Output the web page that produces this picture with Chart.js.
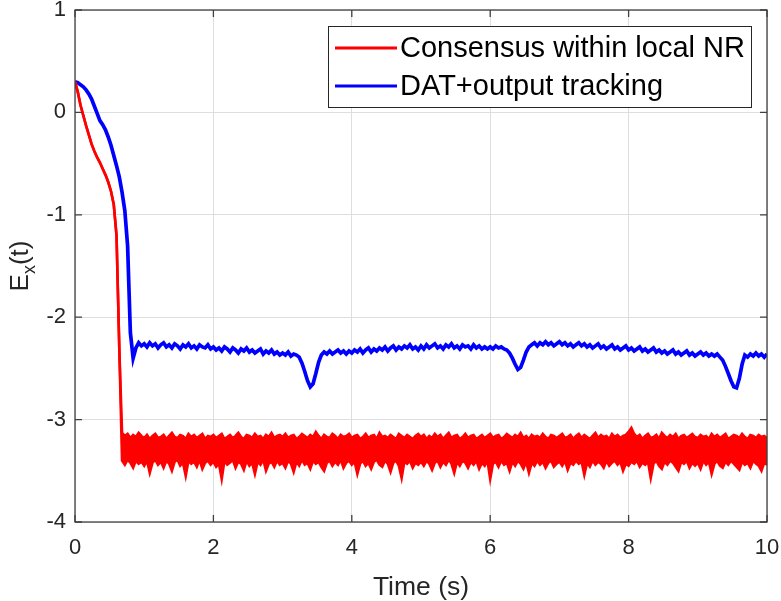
<!DOCTYPE html>
<html>
<head>
<meta charset="utf-8">
<script src="https://cdn.jsdelivr.net/npm/chart.js@4.4.1/dist/chart.umd.min.js"></script>
<style>
html,body{margin:0;padding:0;background:#fff;}
canvas{display:block;}
</style>
</head>
<body>
<canvas id="exChart" width="781" height="601"></canvas>
<script>
// sample times (s)
const times=[
0,0.04,0.08,0.12,0.16,0.2,0.24,0.28,0.32,0.36,0.4,0.44,0.48,0.52,0.56,0.6,0.64,0.68,0.72,0.76,0.8,0.84,0.88,0.92,0.96,
1,1.04,1.08,1.12,1.16,1.2,1.24,1.28,1.32,1.36,1.4,1.44,1.48,1.52,1.56,1.6,1.64,1.68,1.72,1.76,1.8,1.84,1.88,1.92,1.96,
2,2.04,2.08,2.12,2.16,2.2,2.24,2.28,2.32,2.36,2.4,2.44,2.48,2.52,2.56,2.6,2.64,2.68,2.72,2.76,2.8,2.84,2.88,2.92,2.96,
3,3.04,3.08,3.12,3.16,3.2,3.24,3.28,3.32,3.36,3.4,3.44,3.48,3.52,3.56,3.6,3.64,3.68,3.72,3.76,3.8,3.84,3.88,3.92,3.96,
4,4.04,4.08,4.12,4.16,4.2,4.24,4.28,4.32,4.36,4.4,4.44,4.48,4.52,4.56,4.6,4.64,4.68,4.72,4.76,4.8,4.84,4.88,4.92,4.96,
5,5.04,5.08,5.12,5.16,5.2,5.24,5.28,5.32,5.36,5.4,5.44,5.48,5.52,5.56,5.6,5.64,5.68,5.72,5.76,5.8,5.84,5.88,5.92,5.96,
6,6.04,6.08,6.12,6.16,6.2,6.24,6.28,6.32,6.36,6.4,6.44,6.48,6.52,6.56,6.6,6.64,6.68,6.72,6.76,6.8,6.84,6.88,6.92,6.96,
7,7.04,7.08,7.12,7.16,7.2,7.24,7.28,7.32,7.36,7.4,7.44,7.48,7.52,7.56,7.6,7.64,7.68,7.72,7.76,7.8,7.84,7.88,7.92,7.96,
8,8.04,8.08,8.12,8.16,8.2,8.24,8.28,8.32,8.36,8.4,8.44,8.48,8.52,8.56,8.6,8.64,8.68,8.72,8.76,8.8,8.84,8.88,8.92,8.96,
9,9.04,9.08,9.12,9.16,9.2,9.24,9.28,9.32,9.36,9.4,9.44,9.48,9.52,9.56,9.6,9.64,9.68,9.72,9.76,9.8,9.84,9.88,9.92,9.96,
10];

// Consensus within local NR: upper edge of the noisy trace
const consensusHi=[
0.30,0.20,0.07,-0.03,-0.13,-0.22,-0.31,-0.38,-0.44,-0.49,-0.55,-0.61,-0.68,-0.77,-0.90,-1.20,-2.30,-3.13,-3.16,-3.14,-3.18,-3.15,-3.17,-3.13,-3.16,
-3.18,-3.15,-3.19,-3.16,-3.14,-3.18,-3.17,-3.15,-3.19,-3.16,-3.13,-3.17,-3.18,-3.15,-3.16,-3.19,-3.14,-3.17,-3.15,-3.18,-3.16,-3.14,-3.19,-3.16,-3.17,
-3.15,-3.18,-3.16,-3.14,-3.19,-3.17,-3.15,-3.18,-3.16,-3.13,-3.17,-3.19,-3.15,-3.16,-3.18,-3.14,-3.17,-3.16,-3.19,-3.15,-3.17,-3.13,-3.18,-3.16,-3.15,
-3.17,-3.14,-3.18,-3.16,-3.15,-3.19,-3.17,-3.14,-3.16,-3.18,-3.15,-3.17,-3.12,-3.16,-3.19,-3.15,-3.17,-3.18,-3.14,-3.16,-3.19,-3.15,-3.17,-3.16,-3.14,
-3.18,-3.16,-3.15,-3.19,-3.17,-3.14,-3.18,-3.16,-3.15,-3.19,-3.13,-3.17,-3.16,-3.18,-3.15,-3.17,-3.19,-3.14,-3.16,-3.18,-3.15,-3.17,-3.19,-3.16,-3.14,
-3.17,-3.15,-3.19,-3.16,-3.18,-3.14,-3.17,-3.15,-3.19,-3.16,-3.13,-3.18,-3.16,-3.15,-3.19,-3.17,-3.14,-3.18,-3.16,-3.15,-3.19,-3.17,-3.15,-3.18,-3.16,
-3.14,-3.18,-3.16,-3.15,-3.19,-3.17,-3.14,-3.16,-3.18,-3.15,-3.17,-3.13,-3.18,-3.16,-3.19,-3.15,-3.17,-3.16,-3.18,-3.14,-3.17,-3.19,-3.15,-3.16,-3.18,
-3.16,-3.14,-3.18,-3.17,-3.15,-3.19,-3.16,-3.14,-3.18,-3.15,-3.17,-3.19,-3.16,-3.13,-3.18,-3.15,-3.17,-3.16,-3.19,-3.14,-3.17,-3.15,-3.18,-3.16,-3.15,
-3.12,-3.08,-3.14,-3.17,-3.15,-3.19,-3.16,-3.14,-3.18,-3.17,-3.15,-3.19,-3.13,-3.16,-3.18,-3.15,-3.17,-3.14,-3.19,-3.16,-3.15,-3.18,-3.16,-3.14,-3.17,
-3.18,-3.15,-3.17,-3.16,-3.19,-3.14,-3.17,-3.15,-3.18,-3.16,-3.14,-3.19,-3.17,-3.15,-3.16,-3.18,-3.14,-3.17,-3.19,-3.15,-3.16,-3.18,-3.15,-3.17,-3.16,
-3.18];

// Consensus within local NR: lower edge of the noisy trace
const consensusLo=[
0.30,0.20,0.07,-0.03,-0.13,-0.22,-0.31,-0.38,-0.44,-0.49,-0.55,-0.61,-0.68,-0.77,-0.90,-1.20,-2.30,-3.40,-3.44,-3.39,-3.42,-3.47,-3.40,-3.43,-3.41,
-3.45,-3.40,-3.52,-3.42,-3.39,-3.44,-3.41,-3.47,-3.40,-3.43,-3.50,-3.41,-3.39,-3.45,-3.42,-3.55,-3.40,-3.43,-3.41,-3.46,-3.39,-3.48,-3.42,-3.40,-3.44,
-3.41,-3.46,-3.43,-3.58,-3.40,-3.44,-3.42,-3.39,-3.47,-3.41,-3.43,-3.49,-3.40,-3.45,-3.42,-3.53,-3.41,-3.44,-3.39,-3.50,-3.43,-3.41,-3.46,-3.40,-3.44,
-3.42,-3.47,-3.40,-3.43,-3.51,-3.41,-3.45,-3.39,-3.44,-3.42,-3.48,-3.40,-3.43,-3.41,-3.46,-3.50,-3.42,-3.40,-3.45,-3.41,-3.44,-3.39,-3.47,-3.42,-3.40,
-3.44,-3.41,-3.53,-3.43,-3.40,-3.45,-3.42,-3.48,-3.41,-3.39,-3.44,-3.46,-3.40,-3.43,-3.51,-3.42,-3.40,-3.45,-3.57,-3.41,-3.43,-3.40,-3.47,-3.42,-3.44,
-3.41,-3.45,-3.40,-3.43,-3.49,-3.42,-3.40,-3.46,-3.41,-3.44,-3.39,-3.43,-3.52,-3.41,-3.45,-3.40,-3.42,-3.47,-3.41,-3.44,-3.40,-3.48,-3.42,-3.45,-3.40,
-3.58,-3.43,-3.41,-3.46,-3.40,-3.44,-3.42,-3.50,-3.41,-3.45,-3.40,-3.43,-3.48,-3.41,-3.52,-3.42,-3.45,-3.40,-3.44,-3.41,-3.47,-3.42,-3.40,-3.46,-3.43,
-3.41,-3.45,-3.40,-3.49,-3.42,-3.44,-3.40,-3.43,-3.41,-3.54,-3.42,-3.46,-3.40,-3.44,-3.41,-3.43,-3.47,-3.40,-3.45,-3.42,-3.40,-3.44,-3.41,-3.50,-3.43,
-3.45,-3.41,-3.43,-3.40,-3.46,-3.42,-3.44,-3.41,-3.57,-3.43,-3.40,-3.45,-3.48,-3.41,-3.44,-3.40,-3.42,-3.46,-3.50,-3.41,-3.43,-3.40,-3.47,-3.42,-3.45,
-3.42,-3.48,-3.40,-3.44,-3.41,-3.53,-3.43,-3.40,-3.45,-3.47,-3.41,-3.44,-3.40,-3.43,-3.46,-3.49,-3.41,-3.44,-3.42,-3.47,-3.40,-3.43,-3.45,-3.50,-3.42,
-3.44];

// DAT+output tracking
const tracking=[
0.30,0.29,0.27,0.25,0.22,0.18,0.13,0.06,-0.01,-0.08,-0.12,-0.17,-0.24,-0.32,-0.42,-0.52,-0.63,-0.78,-0.96,-1.30,-2.15,-2.40,-2.30,-2.25,-2.28,
-2.26,-2.29,-2.25,-2.28,-2.26,-2.30,-2.27,-2.25,-2.29,-2.27,-2.30,-2.26,-2.28,-2.31,-2.27,-2.29,-2.26,-2.30,-2.28,-2.31,-2.27,-2.29,-2.30,-2.27,-2.31,
-2.29,-2.32,-2.30,-2.33,-2.29,-2.31,-2.34,-2.30,-2.32,-2.35,-2.31,-2.33,-2.30,-2.34,-2.32,-2.35,-2.33,-2.31,-2.36,-2.33,-2.35,-2.32,-2.36,-2.34,-2.37,
-2.35,-2.37,-2.34,-2.38,-2.36,-2.37,-2.39,-2.45,-2.53,-2.62,-2.68,-2.65,-2.55,-2.44,-2.37,-2.34,-2.36,-2.33,-2.36,-2.34,-2.32,-2.35,-2.33,-2.36,-2.33,
-2.35,-2.32,-2.34,-2.31,-2.35,-2.32,-2.30,-2.34,-2.31,-2.33,-2.30,-2.32,-2.29,-2.33,-2.30,-2.28,-2.32,-2.29,-2.31,-2.28,-2.30,-2.27,-2.31,-2.29,-2.32,
-2.28,-2.31,-2.27,-2.30,-2.28,-2.26,-2.30,-2.28,-2.31,-2.27,-2.29,-2.26,-2.30,-2.28,-2.31,-2.27,-2.29,-2.28,-2.31,-2.27,-2.30,-2.28,-2.31,-2.29,-2.31,
-2.29,-2.31,-2.28,-2.30,-2.29,-2.31,-2.32,-2.35,-2.40,-2.46,-2.51,-2.49,-2.42,-2.34,-2.29,-2.27,-2.25,-2.28,-2.25,-2.27,-2.24,-2.27,-2.25,-2.28,-2.26,
-2.24,-2.27,-2.25,-2.28,-2.26,-2.29,-2.27,-2.25,-2.28,-2.26,-2.29,-2.27,-2.30,-2.28,-2.26,-2.30,-2.28,-2.31,-2.29,-2.27,-2.31,-2.29,-2.32,-2.30,-2.28,
-2.32,-2.30,-2.33,-2.31,-2.29,-2.33,-2.31,-2.34,-2.32,-2.30,-2.34,-2.32,-2.35,-2.33,-2.36,-2.34,-2.32,-2.36,-2.34,-2.37,-2.35,-2.33,-2.37,-2.35,-2.38,
-2.36,-2.34,-2.37,-2.35,-2.38,-2.36,-2.38,-2.36,-2.39,-2.42,-2.48,-2.55,-2.62,-2.68,-2.69,-2.60,-2.46,-2.37,-2.39,-2.36,-2.38,-2.35,-2.38,-2.36,-2.39,
-2.36];

const xTicks=[0,2,4,6,8,10];
const yTicks=[-4,-3,-2,-1,0,1];
const seriesNames=["Consensus within local NR","DAT+output tracking"];
const seriesColors=["#ff0000","#0000ff"];

const FONT='"Liberation Sans", Arial, Helvetica, sans-serif';
const AXIS='#404040';
const TXT='#262626';

function pairs(vals){
  return vals.map((v,i)=>({x:times[i],y:v}));
}

// box, inward ticks, legend and axis titles, matlab style
const matlabFrame={
  id:'matlabFrame',
  afterDraw(chart){
    const ctx=chart.ctx;
    const a=chart.chartArea;
    const sx=chart.scales.x, sy=chart.scales.y;
    ctx.save();
    ctx.strokeStyle=AXIS;
    ctx.lineWidth=1.3;
    ctx.strokeRect(a.left,a.top,a.right-a.left,a.bottom-a.top);
    ctx.beginPath();
    xTicks.forEach(v=>{
      const p=sx.getPixelForValue(v);
      ctx.moveTo(p,a.bottom);ctx.lineTo(p,a.bottom-7);
      ctx.moveTo(p,a.top);ctx.lineTo(p,a.top+7);
    });
    yTicks.forEach(v=>{
      const p=sy.getPixelForValue(v);
      ctx.moveTo(a.left,p);ctx.lineTo(a.left+7,p);
      ctx.moveTo(a.right,p);ctx.lineTo(a.right-7,p);
    });
    ctx.stroke();

    // legend
    const lx=328, ly=26, lw=423, lh=81;
    ctx.fillStyle='#fff';
    ctx.fillRect(lx,ly,lw,lh);
    ctx.strokeStyle='#262626';
    ctx.lineWidth=1;
    ctx.strokeRect(lx+0.5,ly+0.5,lw,lh);
    ctx.font='29px '+FONT;
    ctx.textBaseline='middle';
    ctx.textAlign='left';
    const rows=[48,86];
    let r=0;
    chart.data.datasets.forEach(ds=>{
      if(!ds.inLegend) return;
      ctx.strokeStyle=ds.borderColor;
      ctx.lineWidth=3;
      ctx.beginPath();
      ctx.moveTo(335,rows[r]);ctx.lineTo(397,rows[r]);
      ctx.stroke();
      ctx.fillStyle='#000';
      ctx.fillText(ds.label,400,rows[r]+1);
      r++;
    });

    // axis titles
    ctx.fillStyle=TXT;
    ctx.textBaseline='alphabetic';
    ctx.textAlign='center';
    ctx.font='26.5px '+FONT;
    ctx.fillText('Time (s)',(a.left+a.right)/2,595);

    ctx.translate(28,(a.top+a.bottom)/2);
    ctx.rotate(-Math.PI/2);
    ctx.textAlign='left';
    ctx.font='26px '+FONT;
    const wE=ctx.measureText('E').width;
    ctx.font='18px '+FONT;
    const wX=ctx.measureText('x').width;
    ctx.font='26px '+FONT;
    const wT=ctx.measureText('(t)').width;
    let s=-(wE+wX+wT)/2;
    ctx.fillText('E',s,0);
    ctx.font='18px '+FONT;
    ctx.fillText('x',s+wE,7);
    ctx.font='26px '+FONT;
    ctx.fillText('(t)',s+wE+wX,0);
    ctx.restore();
  }
};

new Chart(document.getElementById('exChart').getContext('2d'),{
  type:'line',
  data:{
    datasets:[{
      label:seriesNames[0],
      inLegend:true,
      data:pairs(consensusHi),
      borderColor:seriesColors[0],
      backgroundColor:seriesColors[0],
      fill:'+1',
      borderWidth:2.6,
      pointRadius:0,
      tension:0
    },{
      label:seriesNames[0]+' (lower)',
      inLegend:false,
      data:pairs(consensusLo),
      borderColor:seriesColors[0],
      fill:false,
      borderWidth:2.6,
      pointRadius:0,
      tension:0
    },{
      label:seriesNames[1],
      inLegend:true,
      data:pairs(tracking),
      borderColor:seriesColors[1],
      fill:false,
      borderWidth:3.7,
      pointRadius:0,
      tension:0
    }]
  },
  options:{
    responsive:false,
    animation:false,
    devicePixelRatio:1,
    layout:{padding:{left:0,right:14,top:10,bottom:0}},
    plugins:{legend:{display:false},tooltip:{enabled:false}},
    scales:{
      x:{
        type:'linear',min:0,max:10,
        afterBuildTicks(s){s.ticks=xTicks.map(v=>({value:v}));},
        afterFit(s){s.height=79;s.paddingLeft=0;s.paddingRight=0;},
        grid:{color:'#dedede',lineWidth:1,drawTicks:false},
        border:{display:false},
        ticks:{padding:13,color:TXT,font:{family:FONT,size:22},maxRotation:0}
      },
      y:{
        type:'linear',min:-4,max:1,
        afterBuildTicks(s){s.ticks=yTicks.map(v=>({value:v}));},
        afterFit(s){s.width=75;s.paddingTop=0;s.paddingBottom=0;},
        grid:{color:'#dedede',lineWidth:1,drawTicks:false},
        border:{display:false},
        ticks:{padding:9,color:TXT,font:{family:FONT,size:22}}
      }
    }
  },
  plugins:[matlabFrame]
});
</script>
</body>
</html>
